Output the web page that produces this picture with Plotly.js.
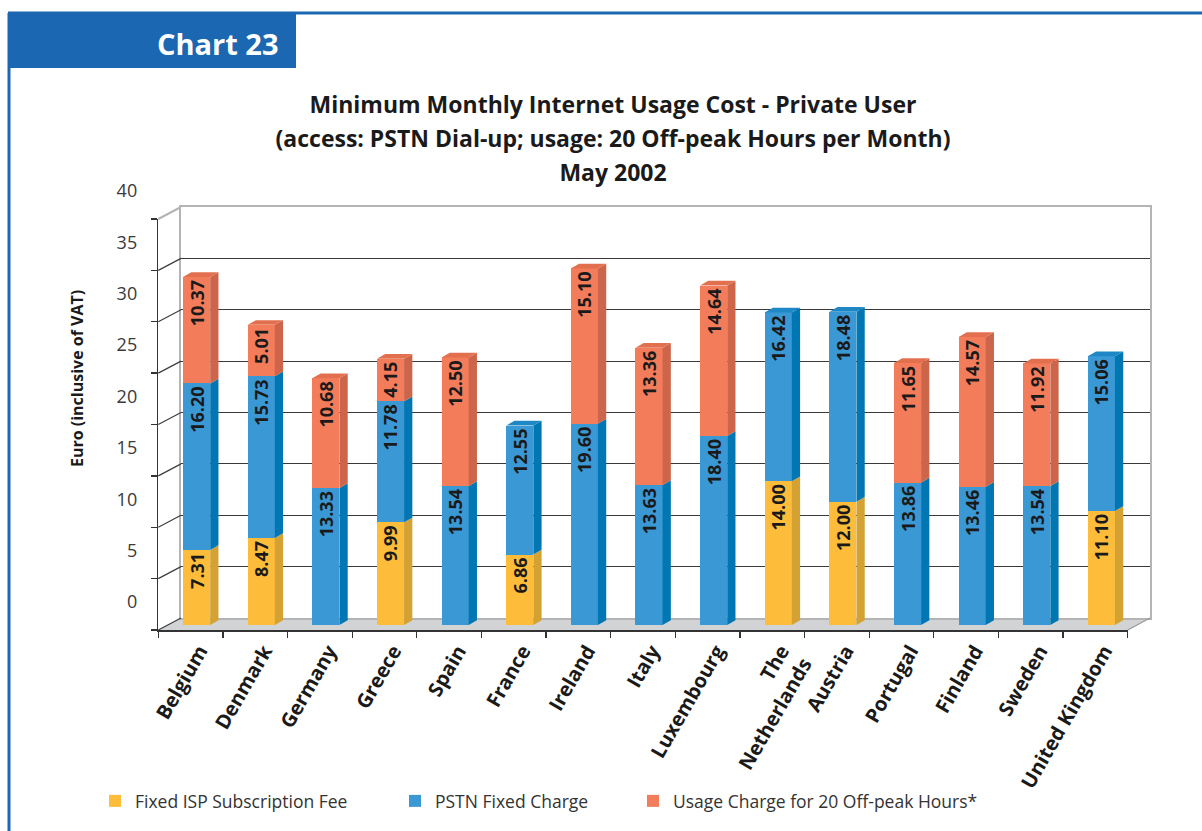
<!DOCTYPE html>
<html><head><meta charset="utf-8">
<script src="https://cdn.plot.ly/plotly-3.0.1.min.js"></script>
<style>html,body{margin:0;padding:0;background:#fff}#chart{width:1202px;height:831px}</style>
</head><body><div id="chart"></div>
<script>
// ---------------- data ----------------
const countries = ['Belgium','Denmark','Germany','Greece','Spain','France','Ireland','Italy','Luxembourg','The Netherlands','Austria','Portugal','Finland','Sweden','United Kingdom'];
const tickLabels = ['Belgium','Denmark','Germany','Greece','Spain','France','Ireland','Italy','Luxembourg','The<br>Netherlands','Austria','Portugal','Finland','Sweden','United Kingdom'];
const ispFee      = [7.31, 8.47, null, 9.99, null, 6.86, null, null, null, 14.00, 12.00, null, null, null, 11.10];
const pstnCharge  = [16.20, 15.73, 13.33, 11.78, 13.54, 12.55, 19.60, 13.63, 18.40, 16.42, 18.48, 13.86, 13.46, 13.54, 15.06];
const usageCharge = [10.37, 5.01, 10.68, 4.15, 12.50, null, 15.10, 13.36, 14.64, null, null, 11.65, 14.57, 11.92, null];
const seriesNames = ['Fixed ISP Subscription Fee', 'PSTN Fixed Charge', 'Usage Charge for 20 Off-peak Hours*'];
const yTicks = [0, 5, 10, 15, 20, 25, 30, 35, 40];
const titleLines = ['Minimum Monthly Internet Usage Cost - Private User', '(access: PSTN Dial-up; usage: 20 Off-peak Hours per Month)', 'May 2002'];
const yTitle = 'Euro (inclusive of VAT)';
const chartLabel = 'Chart 23';

// ---------------- styling / geometry ----------------
const W = 1202, H = 831;
const FONT = '"Open Sans", Lato, sans-serif';
const frontCol = ['#FDBD3B', '#3A98D4', '#F37C5B'];
const sideCol  = ['#D4A133', '#0077B3', '#CC654A'];
const topCol   = ['#E9AE37', '#1E88C6', '#E2704F'];
const BLUE = '#1B67B2';
const FRONT = {x0: 158.3, x1: 1127.7, yb: 630, yt: 219};
const BACK  = {x0: 181,   x1: 1150,   yb: 618, yt: 207};
const BARS  = {x0: 164.3, x1: 1133.7, yb: 625, yt: 214};
const px = v => v / W, py = v => 1 - v / H;
const xdom = b => [px(b.x0), px(b.x1)];
const ydom = b => [py(b.yb), py(b.yt)];
const BAR_W = 0.42, DX = 0.128, DY = 0.46;
const Y_MAX = 40;

const series = [ispFee, pstnCharge, usageCharge];
const legendIds = ['legend', 'legend2', 'legend3'];

const traces = [
  // invisible carriers so the back wall and the front axes exist
  {type: 'scatter', x: countries, y: pstnCharge, xaxis: 'x', yaxis: 'y', mode: 'markers',
   marker: {opacity: 0}, hoverinfo: 'skip', showlegend: false},
  {type: 'scatter', x: countries, y: pstnCharge, xaxis: 'x2', yaxis: 'y2', mode: 'markers',
   marker: {opacity: 0}, hoverinfo: 'skip', showlegend: false}
];
series.forEach((s, k) => {
  traces.push({
    type: 'bar', name: seriesNames[k], x: countries, y: s, xaxis: 'x3', yaxis: 'y3',
    width: BAR_W, legend: legendIds[k],
    marker: {color: frontCol[k], line: {width: 0}},
    texttemplate: '%{y:.2f}', textposition: 'inside', insidetextanchor: 'end',
    textangle: -90, constraintext: 'none',
    insidetextfont: {family: FONT, size: 18, color: '#1a1a1a', weight: 700},
    hoverinfo: 'x+y+name'
  });
});

// ---------------- 3D faces of the bars (in data units) ----------------
const shapes = [];
countries.forEach((c, i) => {
  let base = 0, topK = -1;
  series.forEach((s, k) => {
    const v = s[i];
    if (v == null) return;
    const b = base, t = base + v; base = t;
    const xr = i + BAR_W / 2;
    shapes.push({type: 'path', xref: 'x3', yref: 'y3', layer: 'above',
      path: `M${xr},${b} L${xr + DX},${b + DY} L${xr + DX},${t + DY} L${xr},${t} Z`,
      fillcolor: sideCol[k], line: {width: 0}});
    topK = k;
  });
  const xl = i - BAR_W / 2, xr = i + BAR_W / 2;
  shapes.push({type: 'path', xref: 'x3', yref: 'y3', layer: 'above',
    path: `M${xl},${base} L${xr},${base} L${xr + DX},${base + DY} L${xl + DX},${base + DY} Z`,
    fillcolor: topCol[topK], line: {width: 0}});
});

// floor
shapes.push({type: 'path', xref: 'paper', yref: 'paper', layer: 'below',
  path: `M${px(FRONT.x0)},${py(FRONT.yb)} L${px(FRONT.x1)},${py(FRONT.yb)} L${px(BACK.x1)},${py(BACK.yb)} L${px(BACK.x0)},${py(BACK.yb)} Z`,
  fillcolor: '#D2D3D5', line: {width: 0}});
// left wall lines
const fScale = (FRONT.yb - FRONT.yt) / Y_MAX, bScale = (BACK.yb - BACK.yt) / Y_MAX;
yTicks.forEach(v => {
  shapes.push({type: 'line', xref: 'paper', yref: 'paper', layer: 'above',
    x0: px(FRONT.x0), y0: py(FRONT.yb - v * fScale), x1: px(BACK.x0), y1: py(BACK.yb - v * bScale),
    line: {color: v === Y_MAX ? '#B4B4B4' : '#3D3D3D', width: v === Y_MAX ? 2 : 1.2}});
});
// right floor edge
shapes.push({type: 'line', xref: 'paper', yref: 'paper', layer: 'above',
  x0: px(FRONT.x1), y0: py(FRONT.yb), x1: px(BACK.x1), y1: py(BACK.yb),
  line: {color: '#9A9A9A', width: 1.3}});
// page frame + header box
shapes.push({type: 'line', xref: 'paper', yref: 'paper', x0: px(8), y0: py(13), x1: 1, y1: py(13), line: {color: BLUE, width: 3}});
shapes.push({type: 'line', xref: 'paper', yref: 'paper', x0: px(9), y0: py(13), x1: px(9), y1: 0, line: {color: BLUE, width: 3}});
shapes.push({type: 'rect', xref: 'paper', yref: 'paper', x0: px(8), y0: py(13), x1: px(296), y1: py(68), fillcolor: BLUE, line: {width: 0}});

const annotations = [
  {text: chartLabel, xref: 'paper', yref: 'paper', x: px(281), y: py(43), xanchor: 'right', yanchor: 'middle',
   showarrow: false, font: {family: FONT, size: 29, color: '#ffffff', weight: 700}},
  {text: yTitle, xref: 'paper', yref: 'paper', x: px(77), y: py(379), xanchor: 'center', yanchor: 'middle',
   textangle: -90, showarrow: false, font: {family: FONT, size: 16, color: '#1a1a1a', weight: 700}}
];

const legendBase = {orientation: 'h', yanchor: 'middle', y: py(801), xanchor: 'left',
  bgcolor: 'rgba(0,0,0,0)', borderwidth: 0, font: {family: FONT, size: 17.5, color: '#333'}};
const legendX = [95, 395, 633];

const layout = {
  width: W, height: H, margin: {l: 0, r: 0, t: 0, b: 0},
  paper_bgcolor: '#ffffff', plot_bgcolor: 'rgba(0,0,0,0)',
  barmode: 'stack', font: {family: FONT, color: '#222'},
  title: {text: titleLines.map(l => `<span style="font-size:23px">${l}</span>`).join('<br>'),
    x: px(613), xanchor: 'center', xref: 'container', y: py(113), yanchor: 'top', yref: 'container',
    font: {family: FONT, size: 26, color: '#1a1a1a', weight: 700}},
  xaxis: {domain: xdom(BACK), anchor: 'y', type: 'category', range: [-0.5, 14.5],
    showline: true, mirror: true, linecolor: '#B4B4B4', linewidth: 2,
    showgrid: false, zeroline: false, ticks: '', showticklabels: false, fixedrange: true},
  yaxis: {domain: ydom(BACK), anchor: 'x', range: [0, Y_MAX], tickmode: 'array', tickvals: yTicks,
    showgrid: true, gridcolor: '#3A3A3A', gridwidth: 1,
    showline: true, mirror: true, linecolor: '#B4B4B4', linewidth: 2,
    zeroline: false, ticks: '', showticklabels: false, fixedrange: true},
  xaxis2: {domain: xdom(FRONT), anchor: 'y2', type: 'category', range: [-0.5, 14.5],
    tickmode: 'array', tickvals: countries, ticktext: tickLabels, tickangle: -60,
    tickson: 'boundaries', ticks: 'outside', ticklen: 6, tickcolor: '#333', tickwidth: 1.3,
    ticklabelshift: 9,
    showline: true, linecolor: '#333', linewidth: 1.5, showgrid: false, zeroline: false,
    tickfont: {family: FONT, size: 20, color: '#1a1a1a', weight: 700}, fixedrange: true},
  yaxis2: {domain: ydom(FRONT), anchor: 'x2', range: [0, Y_MAX], tickmode: 'array', tickvals: yTicks,
    ticks: 'outside', ticklen: 6, tickcolor: '#333', tickwidth: 1.3,
    showline: true, linecolor: '#333', linewidth: 1.5, showgrid: false, zeroline: false,
    ticklabelshift: -28, ticklabelstandoff: 10,
    tickfont: {family: FONT, size: 18, color: '#3a3a3a'}, fixedrange: true},
  xaxis3: {domain: xdom(BARS), anchor: 'y3', type: 'category', range: [-0.5, 14.5], visible: false, fixedrange: true},
  yaxis3: {domain: ydom(BARS), anchor: 'x3', range: [0, Y_MAX], visible: false, fixedrange: true},
  legend:  Object.assign({}, legendBase, {x: px(legendX[0])}),
  legend2: Object.assign({}, legendBase, {x: px(legendX[1])}),
  legend3: Object.assign({}, legendBase, {x: px(legendX[2])}),
  shapes: shapes,
  annotations: annotations,
  showlegend: true
};

Plotly.newPlot('chart', traces, layout, {displayModeBar: false, staticPlot: true});
</script>
</body></html>
